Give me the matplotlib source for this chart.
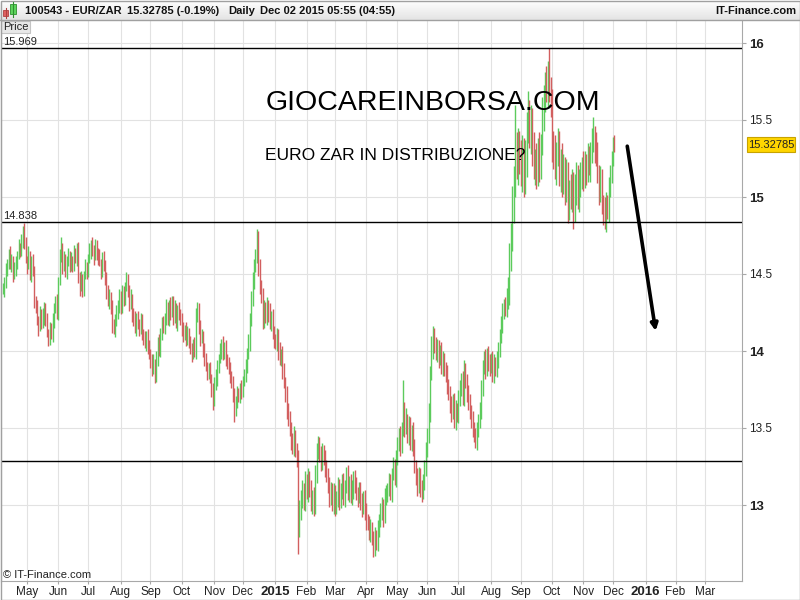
import matplotlib
matplotlib.use("Agg")
import matplotlib.pyplot as plt
import numpy as np
import pandas as pd
from matplotlib.patches import Rectangle
from matplotlib.colors import LinearSegmentedColormap

plt.rcParams["font.family"] = ["Liberation Sans", "DejaVu Sans"]

# ---- data ----
first_day = "2014-04-08"
last_axis_day = "2016-03-31"

# daily closes EUR/ZAR
closes = [
    14.40, 14.45, 14.52,
    14.58, 14.62, 14.55, 14.60,
    14.50, 14.53, 14.58,
    14.62, 14.68, 14.65, 14.72,
    14.78, 14.70,
    14.60, 14.55, 14.62, 14.50, 14.58, 14.52,
    14.32, 14.28,
    14.20, 14.15, 14.25, 14.18,
    14.22, 14.28, 14.20,
    14.12, 14.08, 14.15, 14.10,
    14.20, 14.28, 14.32, 14.25,
    14.45, 14.62, 14.68,
    14.55, 14.60, 14.52,
    14.58, 14.62, 14.55, 14.60, 14.56,
    14.64, 14.60, 14.66,
    14.48, 14.42, 14.46, 14.40,
    14.50, 14.55, 14.52,
    14.60, 14.65, 14.70, 14.66,
    14.62, 14.68, 14.64, 14.60,
    14.58, 14.52, 14.60, 14.55, 14.48,
    14.38, 14.32, 14.36, 14.28,
    14.18, 14.14, 14.20,
    14.24, 14.30, 14.35, 14.28, 14.38, 14.34, 14.42, 14.46,
    14.40, 14.30, 14.35, 14.24,
    14.20, 14.15, 14.22, 14.18, 14.14, 14.20, 14.12,
    14.08, 14.05, 14.10, 14.02, 13.98,
    13.94, 13.88, 13.92, 13.84,
    13.95, 14.05, 14.00, 14.12, 14.18,
    14.15, 14.22, 14.28, 14.20, 14.30, 14.25, 14.32,
    14.22, 14.28, 14.18, 14.26, 14.24, 14.20,
    14.15, 14.10, 14.14, 14.08, 14.12,
    14.05, 14.02, 13.98, 14.04, 14.00,
    14.22, 14.28,
    14.15, 14.08, 14.10,
    14.00, 13.95, 13.90, 13.86, 13.88, 13.82,
    13.75, 13.68, 13.78,
    13.82, 13.90, 13.95,
    14.00, 14.04, 13.98, 14.02, 13.95, 13.92,
    13.88, 13.84, 13.80,
    13.70, 13.62, 13.68,
    13.72, 13.70, 13.76, 13.74,
    13.80, 13.85, 13.90, 13.98, 14.05,
    14.20, 14.35, 14.45, 14.55, 14.62, 14.72,
    14.55, 14.42, 14.35,
    14.20, 14.28, 14.22, 14.30, 14.25, 14.18, 14.22,
    14.12, 14.08, 14.05, 14.10, 14.00, 13.95, 13.98,
    13.88, 13.80, 13.72, 13.62, 13.55, 13.50, 13.42,
    13.38, 13.45, 13.35, 13.30,
    12.85,
    12.95, 13.05, 13.10, 13.02, 13.15, 13.08, 13.18, 13.10,
    13.00, 13.05, 12.98,
    13.20, 13.35, 13.40, 13.32, 13.28, 13.35, 13.30, 13.24, 13.20,
    13.12, 13.05, 13.10, 13.00, 13.08, 12.98, 13.05, 13.12, 13.02,
    13.10, 13.15, 13.05, 13.12, 13.20, 13.08, 13.15, 13.05, 13.10, 13.18, 13.12, 13.08,
    13.05, 13.10, 13.02, 12.98, 13.05, 12.95, 12.90,
    12.88, 12.82, 12.85, 12.78, 12.72, 12.80, 12.75, 12.85,
    12.90, 12.95, 13.00, 12.92, 13.05, 13.08,
    13.10, 13.15, 13.08, 13.20, 13.25, 13.18, 13.30,
    13.40, 13.45, 13.38, 13.50, 13.62,
    13.50, 13.55, 13.45, 13.52, 13.40, 13.48, 13.38,
    13.25, 13.18, 13.12, 13.20, 13.10, 13.08, 13.15,
    13.25, 13.35, 13.45, 13.60,
    13.85, 14.00, 14.10,
    14.05, 13.98, 14.02, 13.95, 14.00, 13.90, 13.95, 13.88, 13.85,
    13.78, 13.72, 13.65, 13.60, 13.68, 13.55, 13.62, 13.58, 13.70,
    13.75, 13.82, 13.70, 13.88, 13.80, 13.72, 13.68,
    13.60, 13.55, 13.50, 13.45, 13.42, 13.48,
    13.55, 13.62, 13.75,
    13.90, 13.95, 13.88, 13.98, 13.92,
    13.90, 13.95, 13.85, 13.92, 13.88, 13.95, 14.00,
    14.10, 14.18, 14.25, 14.30, 14.28, 14.35, 14.40,
    14.60, 14.75, 14.95, 15.10, 15.30, 15.20, 15.35,
    15.25, 15.15, 15.30, 15.10, 15.25,
    15.45, 15.55, 15.40, 15.50,
    15.30, 15.20, 15.25, 15.15, 15.30, 15.22, 15.35,
    15.55, 15.65, 15.75, 15.70,
    15.80, 15.72, 15.60,
    15.35, 15.28, 15.20,
    15.30, 15.35, 15.15, 15.25, 15.10,
    15.20, 15.05, 15.15, 14.95, 15.05,
    15.00, 15.10, 14.92, 15.05, 15.15, 15.00, 15.08,
    15.15, 15.20, 15.12, 15.22, 15.18, 15.25, 15.20,
    15.30, 15.35, 15.40, 15.32, 15.28,
    15.15, 15.05, 15.10, 14.95,
    14.90, 14.85, 14.95, 14.92,
    15.05, 15.15, 15.25, 15.35, 15.33,
]

# how far each bar reaches above / below its open-close span
wick_up = [
    0.04, 0.03, 0.05, 0.02, 0.04, 0.06, 0.03, 0.02, 0.05, 0.04, 0.03, 0.05,
    0.02, 0.04, 0.03, 0.05, 0.04, 0.02, 0.06, 0.03, 0.04, 0.05, 0.03, 0.04,
    0.05, 0.03, 0.04, 0.02, 0.06, 0.04, 0.03, 0.05, 0.02, 0.04, 0.03, 0.05,
    0.03, 0.04, 0.05, 0.03, 0.04, 0.06, 0.02, 0.05, 0.03, 0.04, 0.05, 0.03,
    0.04, 0.02, 0.05, 0.03, 0.04, 0.05, 0.03, 0.06, 0.04, 0.02, 0.05, 0.03,
    0.03, 0.05, 0.02, 0.04, 0.03, 0.05, 0.04, 0.03, 0.06, 0.02, 0.04, 0.05,
    0.04, 0.03, 0.05, 0.04, 0.02, 0.05, 0.03, 0.04, 0.06, 0.03, 0.05, 0.04,
    0.05, 0.04, 0.03, 0.05, 0.04, 0.03, 0.05, 0.02, 0.04, 0.06, 0.03, 0.04,
    0.03, 0.05, 0.04, 0.02, 0.05, 0.03, 0.04, 0.05, 0.03, 0.04, 0.06, 0.03,
    0.05, 0.04, 0.06, 0.03, 0.04, 0.05, 0.03, 0.06, 0.04, 0.03, 0.05, 0.04,
    0.04, 0.05, 0.03, 0.04, 0.06, 0.03, 0.05, 0.04, 0.03, 0.05, 0.04, 0.03,
    0.05, 0.03, 0.04, 0.05, 0.06, 0.04, 0.03, 0.05, 0.04, 0.03, 0.05, 0.04,
    0.03, 0.04, 0.05, 0.03, 0.04, 0.05, 0.06, 0.04, 0.03, 0.05, 0.04, 0.06,
    0.04, 0.05, 0.03, 0.04, 0.05, 0.03, 0.04, 0.06, 0.03, 0.05, 0.04, 0.03,
    0.05, 0.04, 0.03, 0.05, 0.04, 0.06, 0.05, 0.04, 0.06, 0.05, 0.04, 0.07,
    0.06, 0.05, 0.04, 0.06, 0.05, 0.04, 0.05, 0.03, 0.06, 0.04, 0.05, 0.04,
    0.03, 0.05, 0.04, 0.06, 0.03, 0.05, 0.04, 0.03, 0.05, 0.04, 0.06, 0.04,
    0.05, 0.06, 0.04, 0.05, 0.06, 0.08, 0.05, 0.06, 0.04, 0.07, 0.05, 0.06,
    0.04, 0.06, 0.05, 0.07, 0.06, 0.05, 0.05, 0.04, 0.06, 0.05, 0.04, 0.06,
    0.05, 0.04, 0.06, 0.05, 0.04, 0.06, 0.05, 0.04, 0.06, 0.05, 0.04, 0.05,
    0.06, 0.04, 0.05, 0.06, 0.04, 0.05, 0.06, 0.04, 0.05, 0.06, 0.04, 0.05,
    0.05, 0.06, 0.04, 0.05, 0.06, 0.04, 0.05, 0.06, 0.04, 0.05, 0.06, 0.04,
    0.05, 0.04, 0.06, 0.05, 0.04, 0.06, 0.05, 0.04, 0.06, 0.05, 0.04, 0.06,
    0.05, 0.06, 0.04, 0.05, 0.06, 0.04, 0.19, 0.05, 0.08, 0.04, 0.06, 0.05,
    0.04, 0.06, 0.05, 0.04, 0.06, 0.05, 0.04, 0.06, 0.05, 0.04, 0.06, 0.05,
    0.06, 0.05, 0.10, 0.06, 0.05, 0.04, 0.06, 0.05, 0.04, 0.06, 0.05, 0.04,
    0.05, 0.06, 0.04, 0.05, 0.06, 0.04, 0.05, 0.06, 0.04, 0.05, 0.06, 0.04,
    0.05, 0.06, 0.04, 0.05, 0.06, 0.04, 0.05, 0.06, 0.04, 0.05, 0.06, 0.04,
    0.05, 0.06, 0.04, 0.05, 0.06, 0.04, 0.05, 0.06, 0.04, 0.05, 0.06, 0.04,
    0.05, 0.06, 0.04, 0.05, 0.06, 0.04, 0.05, 0.06, 0.08, 0.10, 0.08, 0.12,
    0.10, 0.30, 0.12, 0.10, 0.08, 0.12, 0.10, 0.08, 0.12, 0.10, 0.14, 0.08,
    0.10, 0.08, 0.12, 0.06, 0.10, 0.08, 0.12, 0.06, 0.10, 0.08, 0.06, 0.10,
    0.08, 0.17, 0.06, 0.10, 0.08, 0.12, 0.06, 0.10, 0.08, 0.06, 0.10, 0.08,
    0.06, 0.10, 0.08, 0.06, 0.10, 0.08, 0.06, 0.10, 0.08, 0.06, 0.10, 0.08,
    0.06, 0.10, 0.08, 0.06, 0.10, 0.08, 0.06, 0.10, 0.12, 0.06, 0.10, 0.08,
    0.06, 0.10, 0.08, 0.06, 0.10, 0.08, 0.06, 0.08, 0.06, 0.05, 0.04, 0.05,
]

wick_dn = [
    0.03, 0.05, 0.04, 0.03, 0.05, 0.02, 0.04, 0.05, 0.03, 0.04, 0.05, 0.02,
    0.04, 0.03, 0.05, 0.04, 0.03, 0.05, 0.02, 0.04, 0.05, 0.03, 0.04, 0.03,
    0.03, 0.05, 0.02, 0.04, 0.03, 0.05, 0.04, 0.03, 0.05, 0.04, 0.02, 0.04,
    0.05, 0.03, 0.04, 0.05, 0.02, 0.04, 0.05, 0.03, 0.04, 0.05, 0.03, 0.04,
    0.03, 0.05, 0.04, 0.03, 0.05, 0.04, 0.06, 0.03, 0.05, 0.04, 0.03, 0.05,
    0.04, 0.03, 0.05, 0.04, 0.06, 0.03, 0.05, 0.04, 0.03, 0.05, 0.04, 0.03,
    0.05, 0.04, 0.03, 0.05, 0.04, 0.06, 0.03, 0.05, 0.04, 0.03, 0.05, 0.04,
    0.03, 0.05, 0.04, 0.03, 0.05, 0.04, 0.03, 0.05, 0.04, 0.03, 0.05, 0.04,
    0.04, 0.03, 0.05, 0.04, 0.03, 0.05, 0.04, 0.03, 0.05, 0.04, 0.03, 0.05,
    0.04, 0.05, 0.03, 0.04, 0.05, 0.03, 0.04, 0.05, 0.03, 0.04, 0.05, 0.03,
    0.05, 0.04, 0.03, 0.05, 0.04, 0.03, 0.05, 0.04, 0.03, 0.05, 0.04, 0.03,
    0.04, 0.05, 0.03, 0.04, 0.05, 0.03, 0.04, 0.05, 0.03, 0.04, 0.05, 0.03,
    0.05, 0.04, 0.03, 0.05, 0.06, 0.04, 0.03, 0.05, 0.04, 0.03, 0.05, 0.04,
    0.03, 0.05, 0.04, 0.03, 0.05, 0.04, 0.03, 0.08, 0.04, 0.05, 0.03, 0.04,
    0.05, 0.04, 0.03, 0.05, 0.04, 0.03, 0.05, 0.04, 0.06, 0.05, 0.04, 0.05,
    0.06, 0.05, 0.04, 0.06, 0.05, 0.04, 0.05, 0.06, 0.04, 0.05, 0.04, 0.06,
    0.04, 0.05, 0.06, 0.04, 0.05, 0.06, 0.04, 0.05, 0.06, 0.04, 0.05, 0.06,
    0.05, 0.06, 0.04, 0.05, 0.17, 0.06, 0.05, 0.07, 0.05, 0.06, 0.04, 0.06,
    0.05, 0.04, 0.06, 0.05, 0.04, 0.06, 0.05, 0.04, 0.06, 0.05, 0.04, 0.06,
    0.05, 0.04, 0.06, 0.05, 0.04, 0.06, 0.05, 0.04, 0.06, 0.05, 0.04, 0.06,
    0.05, 0.06, 0.04, 0.05, 0.06, 0.04, 0.05, 0.06, 0.04, 0.05, 0.06, 0.04,
    0.05, 0.06, 0.04, 0.05, 0.06, 0.04, 0.05, 0.06, 0.04, 0.06, 0.05, 0.04,
    0.05, 0.06, 0.04, 0.05, 0.06, 0.04, 0.05, 0.06, 0.04, 0.05, 0.06, 0.04,
    0.05, 0.06, 0.04, 0.05, 0.06, 0.04, 0.05, 0.06, 0.04, 0.05, 0.06, 0.04,
    0.05, 0.06, 0.04, 0.05, 0.06, 0.04, 0.05, 0.06, 0.04, 0.05, 0.06, 0.04,
    0.05, 0.06, 0.04, 0.05, 0.06, 0.04, 0.05, 0.06, 0.04, 0.05, 0.06, 0.04,
    0.05, 0.06, 0.04, 0.05, 0.06, 0.04, 0.05, 0.06, 0.04, 0.05, 0.06, 0.04,
    0.05, 0.06, 0.04, 0.05, 0.06, 0.04, 0.05, 0.06, 0.04, 0.05, 0.06, 0.04,
    0.05, 0.06, 0.04, 0.05, 0.06, 0.04, 0.05, 0.06, 0.04, 0.05, 0.06, 0.04,
    0.05, 0.06, 0.04, 0.05, 0.06, 0.04, 0.05, 0.06, 0.08, 0.10, 0.08, 0.10,
    0.12, 0.10, 0.08, 0.12, 0.10, 0.08, 0.12, 0.10, 0.08, 0.12, 0.10, 0.08,
    0.12, 0.10, 0.08, 0.12, 0.10, 0.08, 0.12, 0.10, 0.08, 0.12, 0.10, 0.08,
    0.12, 0.10, 0.08, 0.12, 0.10, 0.08, 0.12, 0.10, 0.08, 0.12, 0.10, 0.08,
    0.10, 0.08, 0.12, 0.10, 0.08, 0.10, 0.13, 0.08, 0.10, 0.08, 0.10, 0.08,
    0.10, 0.08, 0.06, 0.10, 0.08, 0.06, 0.10, 0.08, 0.06, 0.10, 0.08, 0.06,
    0.10, 0.08, 0.06, 0.08, 0.06, 0.08, 0.06, 0.08, 0.05, 0.06, 0.05, 0.04,
]

levels = [15.969, 14.838, 13.286]
level_labels = ["15.969", "14.838", ""]
price_ticks = [13, 13.5, 14, 14.5, 15, 15.5, 16]
last_price = "15.32785"
title = "GIOCAREINBORSA.COM"
subtitle = "EURO ZAR IN DISTRIBUZIONE?"
arrow_from = (440, 15.33)   # (bar index, price)
arrow_to = (460, 14.13)

GREEN = "#5ccb5c"
RED = "#d25f5f"

W, H = 800, 600
fig = plt.figure(figsize=(W / 100, H / 100), dpi=100)
fig.patch.set_facecolor("white")

# main price panel
ax = fig.add_axes([1 / W, 19 / H, 741 / W, 561 / H])
c = np.array(closes)
opens = np.r_[c[0], c[:-1]]
highs = np.maximum(opens, c) + np.array(wick_up)
lows = np.minimum(opens, c) - np.array(wick_dn)
x = np.arange(len(c))
cols = np.where(c >= opens, GREEN, RED)
ax.vlines(x, lows, highs, colors=cols, linewidth=1.0, zorder=3)

px_per_bar = 1.419
ax.set_xlim(-1.34, -1.34 + 741 / px_per_bar)
ax.set_ylim(16 - 538 / 154, 16 + 23 / 154)

# month ticks (business-day index)
days = pd.bdate_range(first_day, last_axis_day)
tick_pos, tick_lab, tick_bold = [], [], []
for m in pd.period_range("2014-05", "2016-03", freq="M"):
    idx = np.where((days.year == m.year) & (days.month == m.month))[0][0]
    tick_pos.append(idx)
    if m.month == 1:
        tick_lab.append(str(m.year))
        tick_bold.append(True)
    else:
        tick_lab.append(m.strftime("%b"))
        tick_bold.append(False)
ax.set_xticks(tick_pos)
ax.set_xticklabels(tick_lab)
for lab, b in zip(ax.get_xticklabels(), tick_bold):
    if b:
        lab.set_fontweight("bold")
        lab.set_fontsize(9.5)
    else:
        lab.set_fontsize(8.5)

ax.yaxis.tick_right()
ax.set_yticks(price_ticks)
ax.set_yticklabels([f"{t:g}" for t in price_ticks])
for lab, t in zip(ax.get_yticklabels(), price_ticks):
    if float(t).is_integer():
        lab.set_fontweight("bold")
        lab.set_fontsize(9.5)
    else:
        lab.set_fontsize(8.5)

ax.tick_params(axis="x", length=2.5, color="#a8a8a8", pad=1, labelcolor="#222222")
ax.tick_params(axis="y", length=3, color="#a8a8a8", pad=2, labelcolor="#222222")
ax.grid(True, color="#e2e2e2", linewidth=0.8)
ax.set_axisbelow(True)
for side in ["left", "right", "bottom"]:
    ax.spines[side].set_color("#a8a8a8")
ax.spines["top"].set_visible(False)

for lv in levels:
    ax.axhline(lv, color="black", linewidth=1.0, zorder=4)

ax.annotate("", xy=arrow_to, xytext=arrow_from,
            arrowprops=dict(arrowstyle="-|>", color="black", lw=2.6,
                            mutation_scale=10, shrinkA=0, shrinkB=0), zorder=6)

# overlay in pixel coordinates for header and labels
ov = fig.add_axes([0, 0, 1, 1], zorder=5)
ov.set_xlim(0, W)
ov.set_ylim(H, 0)
ov.axis("off")
ov.patch.set_alpha(0)

# header bar with gradient
hax = fig.add_axes([0, 1 - 20 / H, 1, 20 / H], zorder=4)
grad = np.linspace(0, 1, 20).reshape(-1, 1)
cmap = LinearSegmentedColormap.from_list("hdr", ["#ffffff", "#e4e4e4"])
hax.imshow(grad, aspect="auto", cmap=cmap, extent=[0, 1, 1, 0])
hax.axis("off")
ov.plot([0, W], [20, 20], color="#a0a0a0", linewidth=1)

# little candle icon
ov.plot([5.5, 5.5], [8, 18], color="#b04040", linewidth=0.8)
ov.add_patch(Rectangle((3, 10), 5, 6, facecolor="#e06060", edgecolor="#b04040", lw=0.6))
ov.plot([13, 13], [2, 17], color="#2f8f2f", linewidth=0.8)
ov.add_patch(Rectangle((10, 4), 6, 10, facecolor="#5cd65c", edgecolor="#2f8f2f", lw=0.6))

hdr = dict(fontsize=8, fontweight="bold", va="center", color="#111111")
ov.text(25, 11, "100543 - EUR/ZAR", ha="left", **hdr)
ov.text(127, 11, "15.32785 (-0.19%)", ha="left", **hdr)
ov.text(228, 11, "Daily", ha="left", **hdr)
ov.text(260, 11, "Dec 02 2015 05:55 (04:55)", ha="left", **hdr)
ov.text(796, 11, "IT-Finance.com", ha="right", **hdr)

# "Price" tab
ov.add_patch(Rectangle((1, 21), 29, 12, facecolor="#e8e8e8", edgecolor="#c4c4c4", lw=0.8))
ov.text(3, 27.5, "Price", fontsize=8, va="center", ha="left", color="#222222")

# level labels
for lv, txt in zip(levels, level_labels):
    if txt:
        py = 43 + (16 - lv) * 154
        ov.text(3, py - 6, txt, fontsize=8, va="center", ha="left", color="#222222")

ov.text(3, 575, "\u00a9 IT-Finance.com", fontsize=8, va="center", ha="left", color="#222222")

# last price marker
ov.add_patch(Rectangle((747, 137), 48, 15, facecolor="#ffd500", edgecolor="#c8a300", lw=0.8))
ov.text(771, 144.5, last_price, fontsize=8, va="center", ha="center", color="#222222")

ov.text(433, 103, title, fontsize=20.5, va="center", ha="center", color="black")
ov.text(395, 155, subtitle, fontsize=12.5, va="center", ha="center", color="black")

# outer frame
ov.add_patch(Rectangle((0.5, 0.5), W - 1, H - 1, fill=False, edgecolor="#a0a0a0", lw=1))

fig.savefig("out.png", dpi=100)
